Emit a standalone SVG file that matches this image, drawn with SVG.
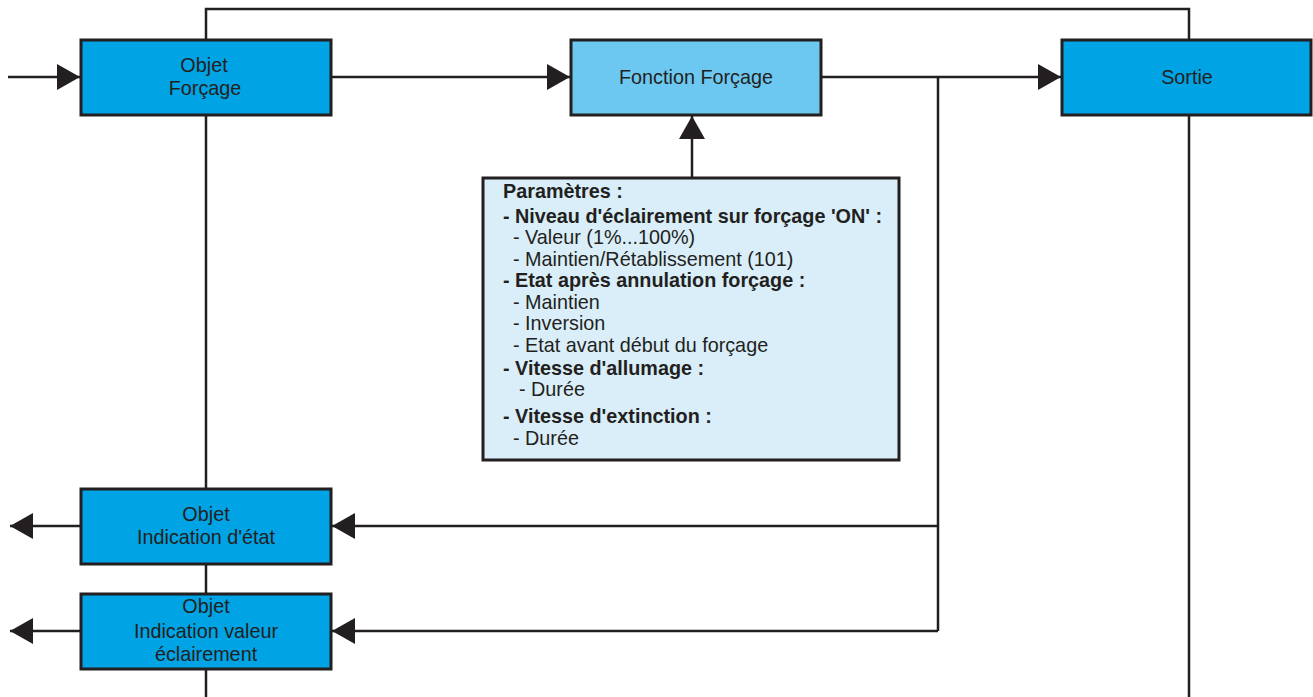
<svg xmlns="http://www.w3.org/2000/svg" width="1313" height="697" viewBox="0 0 1313 697">
<style>
.box{stroke:#231f20;stroke-width:3}
.obj{fill:#00a3e4}
.fn{fill:#6cc8f1}
.par{fill:#d9eef9}
.lbl{font-family:"Liberation Sans",Arial,sans-serif;font-size:19.8px;fill:#231f20;text-anchor:middle}
.pt{font-family:"Liberation Sans",Arial,sans-serif;font-size:19.8px;fill:#231f20}
.b{font-weight:bold}
.ln{fill:none;stroke:#231f20;stroke-width:2.5}
</style>
<defs>
<marker id="arr" viewBox="0 0 23 26" refX="23" refY="13" markerWidth="23" markerHeight="26" orient="auto" markerUnits="userSpaceOnUse">
<path d="M0,0 L23,13 L0,26 Z" fill="#231f20"/>
</marker>
</defs>
<rect width="1313" height="697" fill="#ffffff"/>
<g id="connectors">
<path class="ln" d="M206,40 V9 H1189 V40"/>
<path class="ln" d="M206,115 V489"/>
<path class="ln" d="M206,564 V594"/>
<path class="ln" d="M206,669 V697"/>
<path class="ln" d="M1189,115 V697"/>
<path class="ln" d="M8,77 H80" marker-end="url(#arr)"/>
<path class="ln" d="M331,77 H570" marker-end="url(#arr)"/>
<path class="ln" d="M821,77 H1061" marker-end="url(#arr)"/>
<path class="ln" d="M692,178 V116" marker-end="url(#arr)"/>
<path class="ln" d="M938,77 V631"/>
<path class="ln" d="M938,526 H332" marker-end="url(#arr)"/>
<path class="ln" d="M938,631 H332" marker-end="url(#arr)"/>
<path class="ln" d="M81,526 H10" marker-end="url(#arr)"/>
<path class="ln" d="M81,631 H10" marker-end="url(#arr)"/>
</g>
<g id="objet-forcage">
<rect class="box obj" x="81" y="40" width="250" height="75"/>
<text class="lbl" x="204" y="72">Objet</text>
<text class="lbl" x="205" y="95">Forçage</text>
</g>
<g id="fonction-forcage">
<rect class="box fn" x="571" y="40" width="250" height="75"/>
<text class="lbl" x="696" y="84">Fonction Forçage</text>
</g>
<g id="sortie">
<rect class="box obj" x="1062" y="40" width="249" height="75"/>
<text class="lbl" x="1187" y="84">Sortie</text>
</g>
<g id="parametres">
<rect class="box par" x="483" y="178" width="416" height="282"/>
<text class="pt b" x="503" y="198">Paramètres :</text>
<text class="pt b" x="503" y="223">- Niveau d'éclairement sur forçage 'ON' :</text>
<text class="pt" x="513" y="244">- Valeur (1%...100%)</text>
<text class="pt" x="513" y="266">- Maintien/Rétablissement (101)</text>
<text class="pt b" x="503" y="287">- Etat après annulation forçage :</text>
<text class="pt" x="513" y="309">- Maintien</text>
<text class="pt" x="513" y="330">- Inversion</text>
<text class="pt" x="513" y="352">- Etat avant début du forçage</text>
<text class="pt b" x="503" y="375">- Vitesse d'allumage :</text>
<text class="pt" x="519" y="396">- Durée</text>
<text class="pt b" x="503" y="423">- Vitesse d'extinction :</text>
<text class="pt" x="513" y="445">- Durée</text>
</g>
<g id="objet-indication-etat">
<rect class="box obj" x="81" y="489" width="250" height="75"/>
<text class="lbl" x="206" y="521">Objet</text>
<text class="lbl" x="206" y="544">Indication d'état</text>
</g>
<g id="objet-indication-valeur">
<rect class="box obj" x="81" y="594" width="250" height="75"/>
<text class="lbl" x="206" y="613">Objet</text>
<text class="lbl" x="206" y="638">Indication valeur</text>
<text class="lbl" x="206" y="661">éclairement</text>
</g>
</svg>
